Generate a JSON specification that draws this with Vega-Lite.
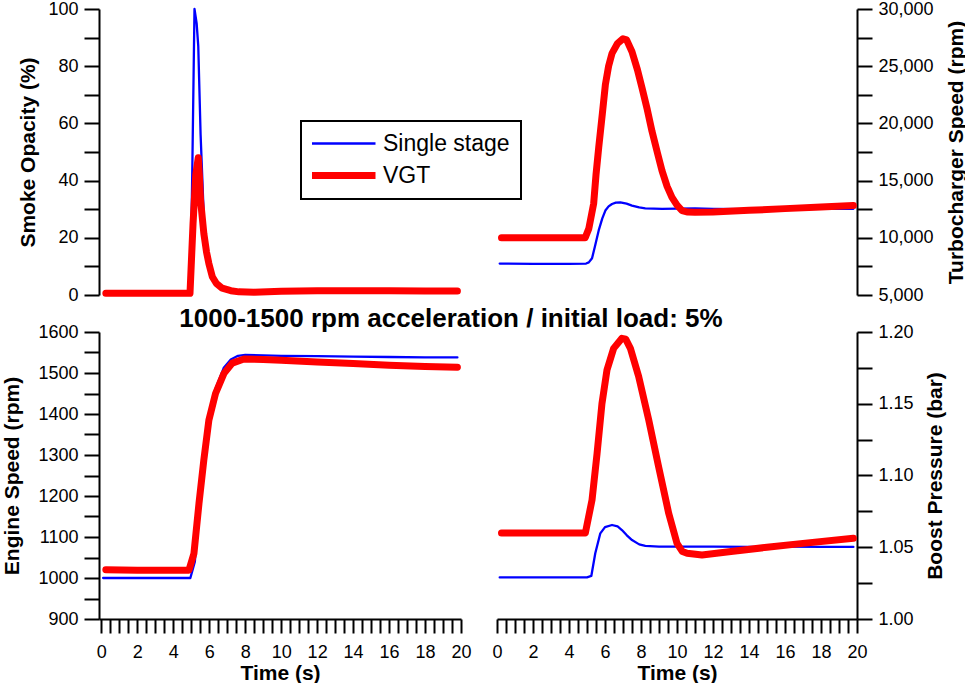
{
  "$schema": "https://vega.github.io/schema/vega-lite/v6.json",
  "background": "white",
  "autosize": {"type": "pad"},
  "padding": {"left": 0, "top": 0, "right": 0, "bottom": 0},
  "bounds": "flush",
  "columns": 2,
  "spacing": {"row": 37, "column": 36},
  "config": {
    "view": {"stroke": null},
    "font": "Liberation Sans",
    "line": {"strokeCap": "round", "strokeJoin": "round"},
    "axis": {
      "domainColor": "black", "domainWidth": 2, "tickColor": "black", "tickWidth": 2,
      "labelColor": "black", "titleColor": "black",
      "labelFont": "Liberation Sans", "titleFont": "Liberation Sans",
      "labelFontSize": 18, "titleFontSize": 21, "titleFontWeight": "bold",
      "grid": false, "labelOverlap": false, "labelFlush": false,
      "labelPadding": 6, "tickSize": 15
    },
    "legend": {"strokeColor": "black", "strokeWidth": 2, "fillColor": "white"}
  },
  "datasets": {
    "smoke": [
      {"t": 0.15, "series": "Single stage", "v": 0.5},
      {"t": 2, "series": "Single stage", "v": 0.5},
      {"t": 4, "series": "Single stage", "v": 0.5},
      {"t": 4.95, "series": "Single stage", "v": 0.6},
      {"t": 5.05, "series": "Single stage", "v": 40},
      {"t": 5.18, "series": "Single stage", "v": 100},
      {"t": 5.3, "series": "Single stage", "v": 95},
      {"t": 5.39, "series": "Single stage", "v": 87},
      {"t": 5.52, "series": "Single stage", "v": 56},
      {"t": 5.7, "series": "Single stage", "v": 27},
      {"t": 5.85, "series": "Single stage", "v": 17},
      {"t": 5.98, "series": "Single stage", "v": 12},
      {"t": 6.15, "series": "Single stage", "v": 8},
      {"t": 6.35, "series": "Single stage", "v": 5},
      {"t": 6.6, "series": "Single stage", "v": 3},
      {"t": 6.9, "series": "Single stage", "v": 2},
      {"t": 7.5, "series": "Single stage", "v": 1.2},
      {"t": 8, "series": "Single stage", "v": 1},
      {"t": 9, "series": "Single stage", "v": 1},
      {"t": 10, "series": "Single stage", "v": 1.2},
      {"t": 12, "series": "Single stage", "v": 1.3},
      {"t": 14, "series": "Single stage", "v": 1.3},
      {"t": 16, "series": "Single stage", "v": 1.3},
      {"t": 18, "series": "Single stage", "v": 1.4},
      {"t": 19.8, "series": "Single stage", "v": 1.4},
      {"t": 0.25, "series": "VGT", "v": 0.6},
      {"t": 2, "series": "VGT", "v": 0.6},
      {"t": 4, "series": "VGT", "v": 0.6},
      {"t": 4.93, "series": "VGT", "v": 0.6},
      {"t": 5.1, "series": "VGT", "v": 25},
      {"t": 5.25, "series": "VGT", "v": 42},
      {"t": 5.39, "series": "VGT", "v": 48},
      {"t": 5.45, "series": "VGT", "v": 42},
      {"t": 5.52, "series": "VGT", "v": 33},
      {"t": 5.7, "series": "VGT", "v": 21.5},
      {"t": 5.85, "series": "VGT", "v": 15},
      {"t": 5.98, "series": "VGT", "v": 11},
      {"t": 6.17, "series": "VGT", "v": 6.4},
      {"t": 6.4, "series": "VGT", "v": 4},
      {"t": 6.72, "series": "VGT", "v": 2.4},
      {"t": 7.2, "series": "VGT", "v": 1.5},
      {"t": 7.65, "series": "VGT", "v": 1.1},
      {"t": 8.5, "series": "VGT", "v": 1.0},
      {"t": 10, "series": "VGT", "v": 1.3},
      {"t": 12, "series": "VGT", "v": 1.5},
      {"t": 14, "series": "VGT", "v": 1.5},
      {"t": 16, "series": "VGT", "v": 1.5},
      {"t": 18, "series": "VGT", "v": 1.4},
      {"t": 19.8, "series": "VGT", "v": 1.4}
    ],
    "turbo": [
      {"t": 0.15, "series": "Single stage", "v": 7750},
      {"t": 2, "series": "Single stage", "v": 7720},
      {"t": 4, "series": "Single stage", "v": 7720},
      {"t": 4.95, "series": "Single stage", "v": 7750},
      {"t": 5.1, "series": "Single stage", "v": 7850},
      {"t": 5.28, "series": "Single stage", "v": 8213},
      {"t": 5.45, "series": "Single stage", "v": 9300},
      {"t": 5.65, "series": "Single stage", "v": 10644},
      {"t": 5.85, "series": "Single stage", "v": 11700},
      {"t": 6.02, "series": "Single stage", "v": 12380},
      {"t": 6.2, "series": "Single stage", "v": 12750},
      {"t": 6.39, "series": "Single stage", "v": 12958},
      {"t": 6.6, "series": "Single stage", "v": 13080},
      {"t": 6.85, "series": "Single stage", "v": 13100},
      {"t": 7.2, "series": "Single stage", "v": 12980},
      {"t": 7.5, "series": "Single stage", "v": 12814},
      {"t": 7.9, "series": "Single stage", "v": 12650},
      {"t": 8.24, "series": "Single stage", "v": 12580},
      {"t": 9.17, "series": "Single stage", "v": 12530},
      {"t": 10, "series": "Single stage", "v": 12550},
      {"t": 11, "series": "Single stage", "v": 12560},
      {"t": 12, "series": "Single stage", "v": 12520},
      {"t": 14, "series": "Single stage", "v": 12500},
      {"t": 16, "series": "Single stage", "v": 12500},
      {"t": 18, "series": "Single stage", "v": 12520},
      {"t": 19.8, "series": "Single stage", "v": 12530},
      {"t": 0.25, "series": "VGT", "v": 10000},
      {"t": 2, "series": "VGT", "v": 10000},
      {"t": 4, "series": "VGT", "v": 10000},
      {"t": 4.9, "series": "VGT", "v": 10000},
      {"t": 5.1, "series": "VGT", "v": 10800},
      {"t": 5.37, "series": "VGT", "v": 12987},
      {"t": 5.5, "series": "VGT", "v": 15500},
      {"t": 5.65, "series": "VGT", "v": 17874},
      {"t": 5.85, "series": "VGT", "v": 20800},
      {"t": 6.02, "series": "VGT", "v": 23377},
      {"t": 6.2, "series": "VGT", "v": 25000},
      {"t": 6.39, "series": "VGT", "v": 26120},
      {"t": 6.7, "series": "VGT", "v": 27000},
      {"t": 7.0, "series": "VGT", "v": 27400},
      {"t": 7.2, "series": "VGT", "v": 27300},
      {"t": 7.5, "series": "VGT", "v": 26268},
      {"t": 7.8, "series": "VGT", "v": 24700},
      {"t": 8.06, "series": "VGT", "v": 23083},
      {"t": 8.35, "series": "VGT", "v": 21200},
      {"t": 8.61, "series": "VGT", "v": 19324},
      {"t": 8.9, "series": "VGT", "v": 17500},
      {"t": 9.17, "series": "VGT", "v": 15852},
      {"t": 9.45, "series": "VGT", "v": 14500},
      {"t": 9.72, "series": "VGT", "v": 13535},
      {"t": 10.0, "series": "VGT", "v": 12850},
      {"t": 10.28, "series": "VGT", "v": 12380},
      {"t": 10.6, "series": "VGT", "v": 12250},
      {"t": 11, "series": "VGT", "v": 12233},
      {"t": 12, "series": "VGT", "v": 12260},
      {"t": 14, "series": "VGT", "v": 12400},
      {"t": 16, "series": "VGT", "v": 12550},
      {"t": 18, "series": "VGT", "v": 12700},
      {"t": 19.8, "series": "VGT", "v": 12814}
    ],
    "engine": [
      {"t": 0.1, "series": "Single stage", "v": 1000},
      {"t": 2, "series": "Single stage", "v": 1000},
      {"t": 4, "series": "Single stage", "v": 1000},
      {"t": 4.95, "series": "Single stage", "v": 1000},
      {"t": 5.2, "series": "Single stage", "v": 1040},
      {"t": 5.45, "series": "Single stage", "v": 1175},
      {"t": 5.7, "series": "Single stage", "v": 1295},
      {"t": 6.0, "series": "Single stage", "v": 1395},
      {"t": 6.35, "series": "Single stage", "v": 1462},
      {"t": 6.8, "series": "Single stage", "v": 1512},
      {"t": 7.2, "series": "Single stage", "v": 1533},
      {"t": 7.6, "series": "Single stage", "v": 1542},
      {"t": 8, "series": "Single stage", "v": 1544},
      {"t": 9, "series": "Single stage", "v": 1543},
      {"t": 10, "series": "Single stage", "v": 1542},
      {"t": 12, "series": "Single stage", "v": 1541},
      {"t": 14, "series": "Single stage", "v": 1540},
      {"t": 16, "series": "Single stage", "v": 1539},
      {"t": 18, "series": "Single stage", "v": 1538},
      {"t": 19.8, "series": "Single stage", "v": 1538},
      {"t": 0.25, "series": "VGT", "v": 1020},
      {"t": 2, "series": "VGT", "v": 1019},
      {"t": 4, "series": "VGT", "v": 1019},
      {"t": 4.87, "series": "VGT", "v": 1019},
      {"t": 5.15, "series": "VGT", "v": 1060},
      {"t": 5.43, "series": "VGT", "v": 1182},
      {"t": 5.7, "series": "VGT", "v": 1288},
      {"t": 5.98, "series": "VGT", "v": 1385},
      {"t": 6.35, "series": "VGT", "v": 1450},
      {"t": 6.82, "series": "VGT", "v": 1499},
      {"t": 7.28, "series": "VGT", "v": 1524},
      {"t": 7.93, "series": "VGT", "v": 1534},
      {"t": 9, "series": "VGT", "v": 1533},
      {"t": 10, "series": "VGT", "v": 1531},
      {"t": 12, "series": "VGT", "v": 1527},
      {"t": 14, "series": "VGT", "v": 1523},
      {"t": 16, "series": "VGT", "v": 1519},
      {"t": 18, "series": "VGT", "v": 1516},
      {"t": 19.8, "series": "VGT", "v": 1514}
    ],
    "boost": [
      {"t": 0.15, "series": "Single stage", "v": 1.029},
      {"t": 2, "series": "Single stage", "v": 1.029},
      {"t": 4, "series": "Single stage", "v": 1.029},
      {"t": 5.0, "series": "Single stage", "v": 1.029},
      {"t": 5.24, "series": "Single stage", "v": 1.030},
      {"t": 5.46, "series": "Single stage", "v": 1.0458},
      {"t": 5.74, "series": "Single stage", "v": 1.0597},
      {"t": 6.0, "series": "Single stage", "v": 1.064},
      {"t": 6.39, "series": "Single stage", "v": 1.0655},
      {"t": 6.7, "series": "Single stage", "v": 1.0645},
      {"t": 6.94, "series": "Single stage", "v": 1.062},
      {"t": 7.2, "series": "Single stage", "v": 1.0585},
      {"t": 7.5, "series": "Single stage", "v": 1.055},
      {"t": 7.9, "series": "Single stage", "v": 1.052},
      {"t": 8.24, "series": "Single stage", "v": 1.051},
      {"t": 9, "series": "Single stage", "v": 1.0505},
      {"t": 10, "series": "Single stage", "v": 1.0505},
      {"t": 12, "series": "Single stage", "v": 1.0505},
      {"t": 14, "series": "Single stage", "v": 1.0502},
      {"t": 16, "series": "Single stage", "v": 1.0505},
      {"t": 18, "series": "Single stage", "v": 1.0503},
      {"t": 19.8, "series": "Single stage", "v": 1.0502},
      {"t": 0.25, "series": "VGT", "v": 1.060},
      {"t": 2, "series": "VGT", "v": 1.060},
      {"t": 4, "series": "VGT", "v": 1.060},
      {"t": 4.91, "series": "VGT", "v": 1.060},
      {"t": 5.28, "series": "VGT", "v": 1.083},
      {"t": 5.56, "series": "VGT", "v": 1.1155},
      {"t": 5.83, "series": "VGT", "v": 1.150},
      {"t": 6.11, "series": "VGT", "v": 1.1735},
      {"t": 6.48, "series": "VGT", "v": 1.1886},
      {"t": 6.94, "series": "VGT", "v": 1.1956},
      {"t": 7.15, "series": "VGT", "v": 1.195},
      {"t": 7.41, "series": "VGT", "v": 1.1886},
      {"t": 7.87, "series": "VGT", "v": 1.169},
      {"t": 8.43, "series": "VGT", "v": 1.1387},
      {"t": 8.98, "series": "VGT", "v": 1.106},
      {"t": 9.54, "series": "VGT", "v": 1.0736},
      {"t": 10.0, "series": "VGT", "v": 1.0527},
      {"t": 10.3, "series": "VGT", "v": 1.047},
      {"t": 10.56, "series": "VGT", "v": 1.0458},
      {"t": 11.39, "series": "VGT", "v": 1.0446},
      {"t": 13, "series": "VGT", "v": 1.0470},
      {"t": 15, "series": "VGT", "v": 1.0500},
      {"t": 17, "series": "VGT", "v": 1.0527},
      {"t": 19.8, "series": "VGT", "v": 1.0562}
    ]
  },
  "concat": [
    {
      "width": 362, "height": 286,
      "data": {"name": "smoke"},
      "mark": {"type": "line"},
      "encoding": {
        "x": {"field": "t", "type": "quantitative", "scale": {"domain": [-0.13, 20], "nice": false, "zero": false}, "axis": null},
        "y": {"field": "v", "type": "quantitative", "scale": {"domain": [0, 100], "nice": false},
          "axis": {"orient": "left", "title": "Smoke Opacity (%)", "values": [0,10,20,30,40,50,60,70,80,90,100], "format": "d",
            "labelExpr": "datum.value % 20 === 0 ? datum.label : ''",
            "titleX": -65, "titleBaseline": "alphabetic", "titleAngle": -90,
            "encode": {"ticks": {"x2": {"value": {"signal": "datum.value % 20 === 0 ? -15 : -7"}}}}}},
        "color": {"field": "series", "type": "nominal", "scale": {"domain": ["Single stage", "VGT"], "range": ["#0000ff", "#ff0000"]},
          "legend": {"orient": "none", "legendX": 202, "legendY": 112, "title": null, "padding": 11, "rowPadding": 8, "clipHeight": 23,
            "symbolSize": 4900, "symbolType": "stroke", "symbolOffset": -10, "labelFontSize": 23, "labelFont": "Liberation Sans", "labelColor": "black", "labelOffset": 4,
            "fillColor": "white", "strokeColor": "black",
            "encode": {"symbols": {"strokeCap": {"value": "round"}}}}},
        "strokeWidth": {"field": "series", "type": "nominal", "scale": {"type": "ordinal", "domain": ["Single stage", "VGT"], "range": [2.3, 7]},
          "legend": {"orient": "none", "legendX": 202, "legendY": 112, "title": null, "padding": 11, "rowPadding": 8, "clipHeight": 23,
            "symbolSize": 4900, "symbolType": "stroke", "symbolOffset": -10, "labelFontSize": 23, "labelFont": "Liberation Sans", "labelColor": "black", "labelOffset": 4,
            "fillColor": "white", "strokeColor": "black",
            "encode": {"symbols": {"strokeCap": {"value": "round"}}}}}
      }
    },
    {
      "width": 360, "height": 286,
      "data": {"name": "turbo"},
      "mark": {"type": "line"},
      "encoding": {
        "x": {"field": "t", "type": "quantitative", "scale": {"domain": [0, 20], "nice": false, "zero": false}, "axis": null},
        "y": {"field": "v", "type": "quantitative", "scale": {"domain": [5000, 30000], "nice": false, "zero": false},
          "axis": {"orient": "right", "title": "Turbocharger Speed (rpm)", "values": [5000,7500,10000,12500,15000,17500,20000,22500,25000,27500,30000], "format": ",.0f",
            "labelExpr": "datum.value % 5000 === 0 ? datum.label : ''",
            "titleX": 105, "titleBaseline": "alphabetic", "titleAngle": -90,
            "encode": {"ticks": {"x2": {"value": {"signal": "datum.value % 5000 === 0 ? 15 : 7"}}}}}},
        "color": {"field": "series", "type": "nominal", "scale": {"domain": ["Single stage", "VGT"], "range": ["#0000ff", "#ff0000"]}, "legend": null},
        "strokeWidth": {"field": "series", "type": "nominal", "scale": {"type": "ordinal", "domain": ["Single stage", "VGT"], "range": [2.3, 7]}, "legend": null}
      }
    },
    {
      "width": 362, "height": 287,
      "data": {"name": "engine"},
      "title": {"text": "1000-1500 rpm acceleration / initial load: 5%", "anchor": "middle", "frame": "group", "dx": 171, "dy": 35, "offset": 5,
        "baseline": "alphabetic", "fontSize": 26, "fontWeight": "bold", "font": "Liberation Sans", "color": "black"},
      "mark": {"type": "line"},
      "encoding": {
        "x": {"field": "t", "type": "quantitative", "scale": {"domain": [-0.13, 20], "nice": false, "zero": false},
          "axis": {"orient": "bottom", "title": "Time (s)", "values": [0,0.5,1,1.5,2,2.5,3,3.5,4,4.5,5,5.5,6,6.5,7,7.5,8,8.5,9,9.5,10,10.5,11,11.5,12,12.5,13,13.5,14,14.5,15,15.5,16,16.5,17,17.5,18,18.5,19,19.5,20],
            "format": ".0f", "labelExpr": "datum.value % 2 === 0 ? datum.label : ''", "tickSize": 14, "labelPadding": 10,
            "titleY": 60, "titleBaseline": "alphabetic",
            "encode": {"ticks": {"y2": {"value": {"signal": "datum.value % 1 === 0 ? 14 : 7"}}}}}},
        "y": {"field": "v", "type": "quantitative", "scale": {"domain": [900, 1600], "nice": false, "zero": false},
          "axis": {"orient": "left", "title": "Engine Speed (rpm)", "values": [900,950,1000,1050,1100,1150,1200,1250,1300,1350,1400,1450,1500,1550,1600], "format": "d",
            "labelExpr": "datum.value % 100 === 0 ? datum.label : ''",
            "titleX": -81, "titleBaseline": "alphabetic", "titleAngle": -90,
            "encode": {"ticks": {"x2": {"value": {"signal": "datum.value % 100 === 0 ? -15 : -7"}}}}}},
        "color": {"field": "series", "type": "nominal", "scale": {"domain": ["Single stage", "VGT"], "range": ["#0000ff", "#ff0000"]}, "legend": null},
        "strokeWidth": {"field": "series", "type": "nominal", "scale": {"type": "ordinal", "domain": ["Single stage", "VGT"], "range": [2.3, 7]}, "legend": null}
      }
    },
    {
      "width": 360, "height": 287,
      "data": {"name": "boost"},
      "mark": {"type": "line"},
      "encoding": {
        "x": {"field": "t", "type": "quantitative", "scale": {"domain": [0, 20], "nice": false, "zero": false},
          "axis": {"orient": "bottom", "title": "Time (s)", "values": [0,0.5,1,1.5,2,2.5,3,3.5,4,4.5,5,5.5,6,6.5,7,7.5,8,8.5,9,9.5,10,10.5,11,11.5,12,12.5,13,13.5,14,14.5,15,15.5,16,16.5,17,17.5,18,18.5,19,19.5,20],
            "format": ".0f", "labelExpr": "datum.value % 2 === 0 ? datum.label : ''", "tickSize": 14, "labelPadding": 10,
            "titleY": 60, "titleBaseline": "alphabetic",
            "encode": {"ticks": {"y2": {"value": {"signal": "datum.value % 1 === 0 ? 14 : 7"}}}}}},
        "y": {"field": "v", "type": "quantitative", "scale": {"domain": [1.0, 1.2], "nice": false, "zero": false},
          "axis": {"orient": "right", "title": "Boost Pressure (bar)", "values": [1,1.025,1.05,1.075,1.1,1.125,1.15,1.175,1.2], "format": ".2f",
            "labelExpr": "round(datum.value * 1000) % 50 === 0 ? datum.label : ''",
            "titleX": 84, "titleBaseline": "alphabetic", "titleAngle": -90,
            "encode": {"ticks": {"x2": {"value": {"signal": "round(datum.value * 1000) % 50 === 0 ? 15 : 7"}}}}}},
        "color": {"field": "series", "type": "nominal", "scale": {"domain": ["Single stage", "VGT"], "range": ["#0000ff", "#ff0000"]}, "legend": null},
        "strokeWidth": {"field": "series", "type": "nominal", "scale": {"type": "ordinal", "domain": ["Single stage", "VGT"], "range": [2.3, 7]}, "legend": null}
      }
    }
  ]
}
